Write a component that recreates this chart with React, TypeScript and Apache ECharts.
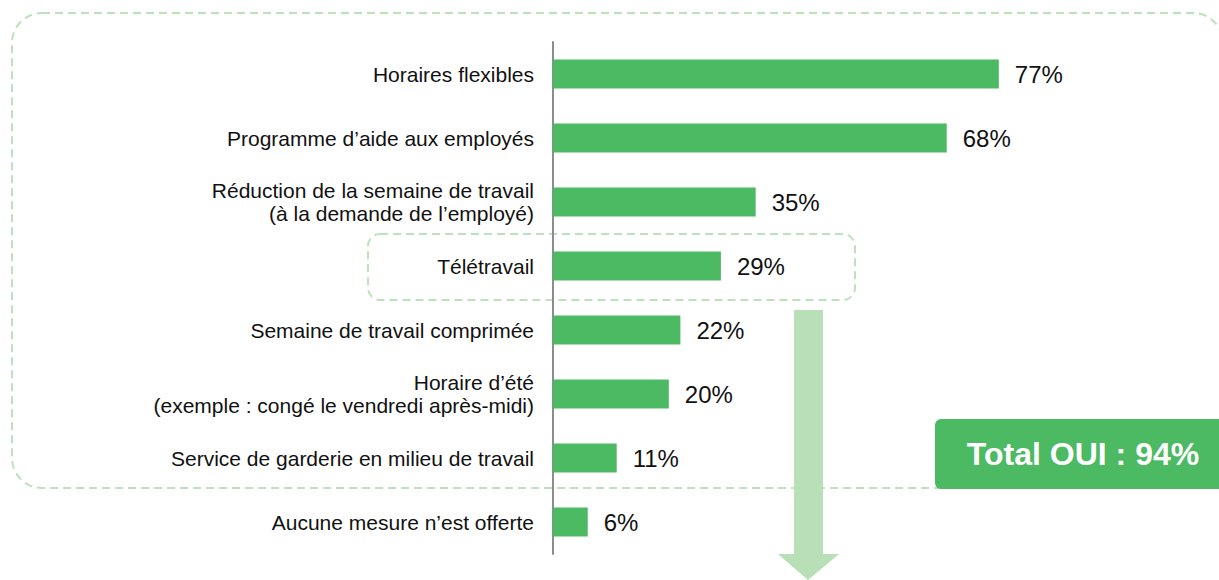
import React, { useEffect, useRef } from "react";
import * as echarts from "echarts";

const categories = [
  "Horaires flexibles",
  "Programme d’aide aux employés",
  "Réduction de la semaine de travail\n(à la demande de l’employé)",
  "Télétravail",
  "Semaine de travail comprimée",
  "Horaire d’été\n(exemple : congé le vendredi après-midi)",
  "Service de garderie en milieu de travail",
  "Aucune mesure n’est offerte",
];
const values = [77, 68, 35, 29, 22, 20, 11, 6];
const totalText = "Total OUI : 94%";

const GREEN = "#4cb963";
const LIGHT = "#bde2bb";
const FONT = "'Liberation Sans', Arial, sans-serif";

export default function App() {
  const ref = useRef<HTMLDivElement>(null);
  useEffect(() => {
    if (!ref.current) return;
    const chart = echarts.init(ref.current, null, { renderer: "svg" });
    chart.setOption({
      animation: false,
      grid: { left: 553, top: 42, width: 579, height: 512, containLabel: false },
      xAxis: {
        type: "value",
        min: 0,
        max: 100,
        show: false,
      },
      yAxis: {
        type: "category",
        data: categories,
        inverse: true,
        axisLine: { show: true, lineStyle: { color: "#8c8c8c", width: 2 } },
        axisTick: { show: false },
        splitLine: { show: false },
        axisLabel: {
          margin: 19,
          color: "#111",
          fontSize: 21,
          fontFamily: FONT,
          lineHeight: 23,
          align: "right",
        },
      },
      series: [
        {
          type: "bar",
          data: values,
          barWidth: 29,
          itemStyle: { color: GREEN },
          label: {
            show: true,
            position: "right",
            distance: 16,
            formatter: "{c}%",
            color: "#111",
            fontSize: 24,
            fontFamily: FONT,
          },
        },
      ],
      graphic: [
        {
          type: "rect",
          z: -1,
          shape: { x: 12, y: 13, width: 1211, height: 475, r: 30 },
          style: { fill: "none", stroke: LIGHT, lineWidth: 2, lineDash: [8, 5] },
        },
        {
          type: "rect",
          z: -1,
          shape: { x: 368, y: 234, width: 487, height: 66, r: 12 },
          style: { fill: "none", stroke: LIGHT, lineWidth: 2, lineDash: [8, 5] },
        },
        {
          type: "polygon",
          shape: {
            points: [
              [794, 310],
              [823, 310],
              [823, 554],
              [839, 554],
              [808, 580],
              [778, 554],
              [794, 554],
            ],
          },
          style: { fill: "#b9dfb6" },
        },
        {
          type: "rect",
          shape: { x: 935, y: 419, width: 300, height: 70, r: 6 },
          style: { fill: GREEN },
        },
        {
          type: "text",
          x: 1083,
          y: 454,
          style: {
            text: totalText,
            fill: "#fff",
            font: `bold 32px ${FONT}`,
            textAlign: "center",
            textVerticalAlign: "middle",
          },
        },
      ],
    });
    return () => chart.dispose();
  }, []);
  return (
    <div
      ref={ref}
      style={{ position: "fixed", left: 0, top: 0, width: 1219, height: 580, background: "#fff" }}
    />
  );
}
